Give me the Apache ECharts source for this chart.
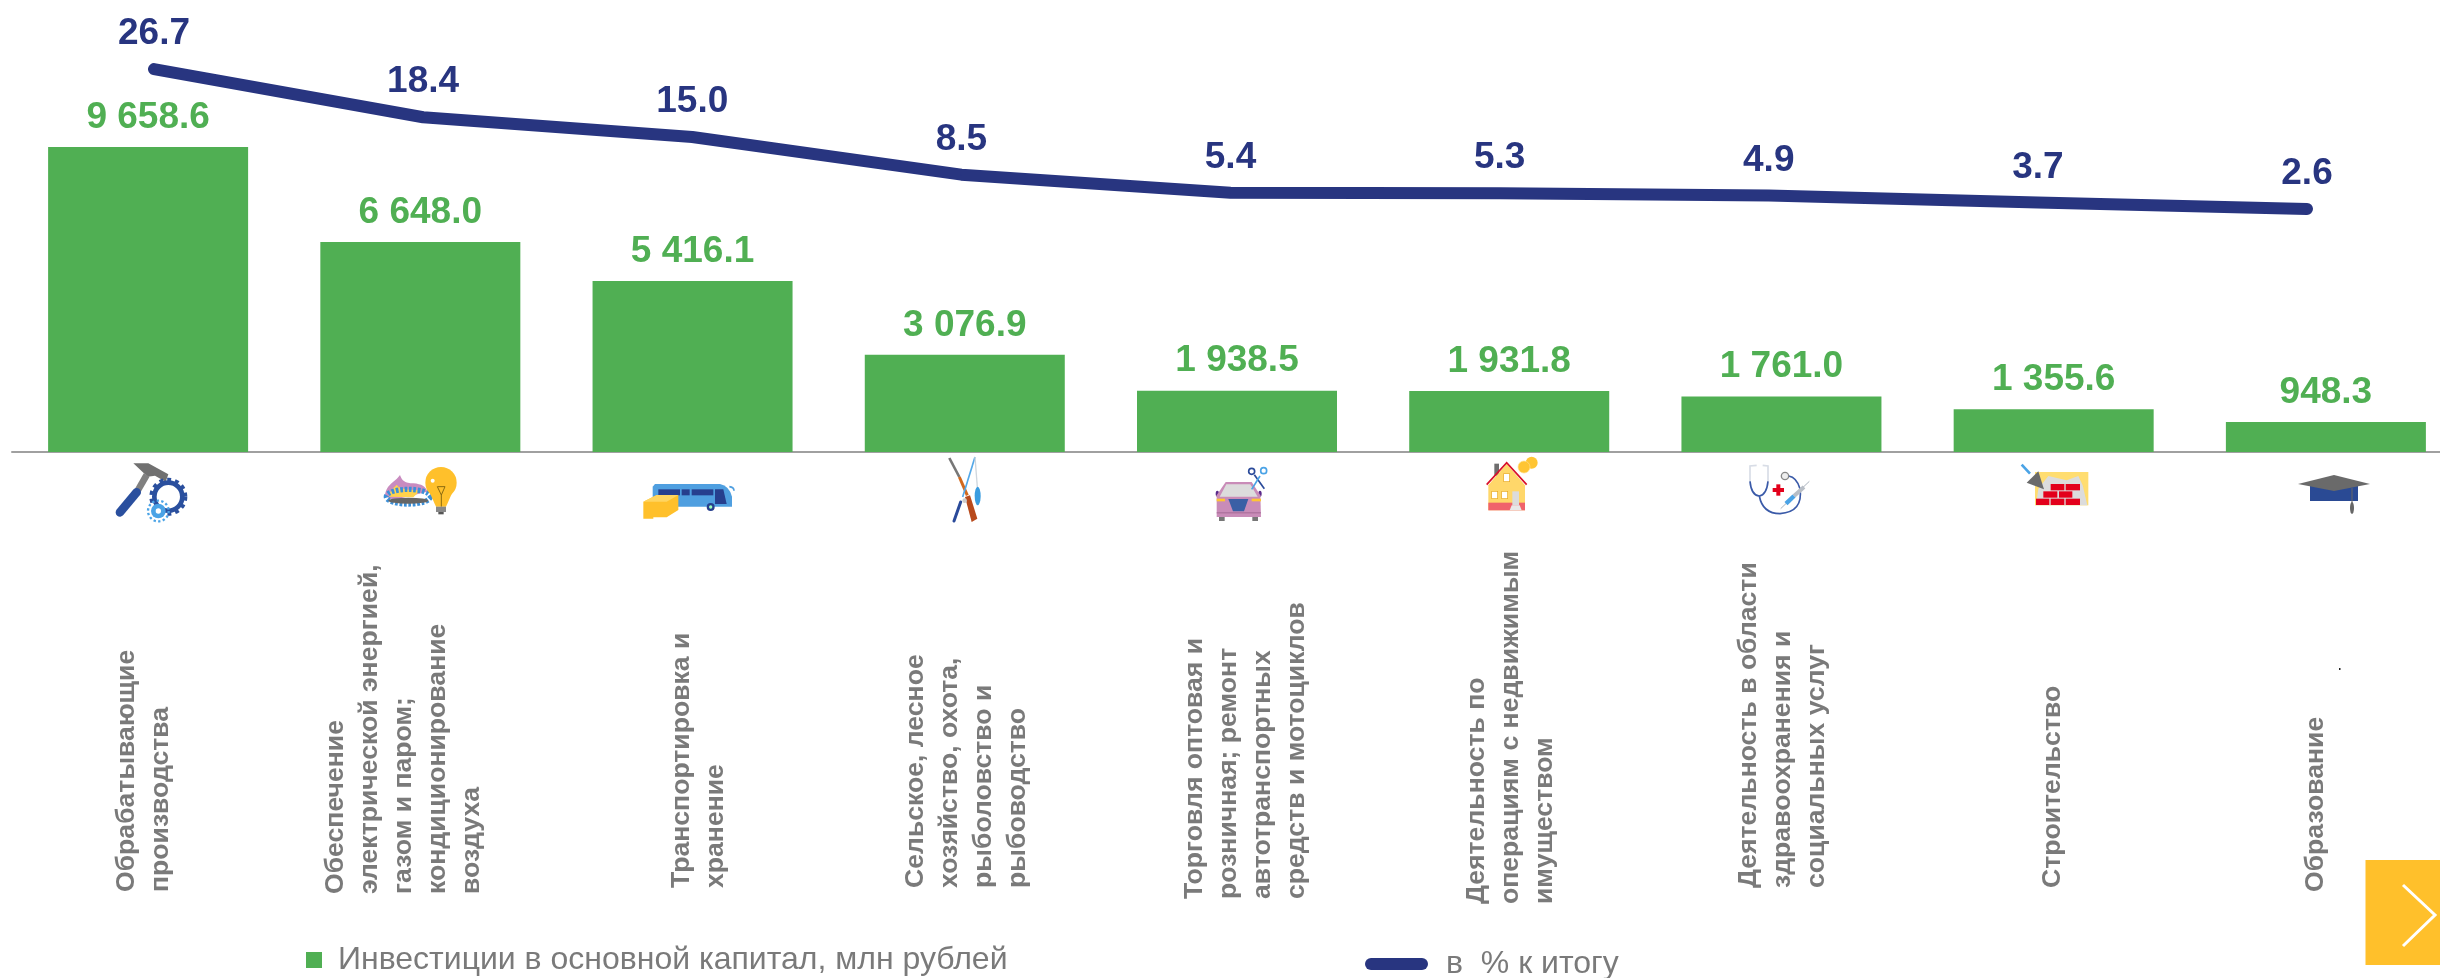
<!DOCTYPE html>
<html>
<head>
<meta charset="utf-8">
<style>html,body{margin:0;padding:0;background:#fff;overflow:hidden}#c{width:2440px;height:978px}</style>
<script src="https://cdn.jsdelivr.net/npm/echarts@6/dist/echarts.min.js"></script>
</head>
<body>
<div id="c"></div>
<script>
const categories = [
  'Обрабатывающие\nпроизводства',
  'Обеспечение\nэлектрической энергией,\nгазом и паром;\nкондиционирование\nвоздуха',
  'Транспортировка и\nхранение',
  'Сельское, лесное\nхозяйство, охота,\nрыболовство и\nрыбоводство',
  'Торговля оптовая и\nрозничная; ремонт\nавтотранспортных\nсредств и мотоциклов',
  'Деятельность по\nоперациям с недвижимым\nимуществом',
  'Деятельность в области\nздравоохранения и\nсоциальных услуг',
  'Строительство',
  'Образование'
];
const investments = [9658.6, 6648.0, 5416.1, 3076.9, 1938.5, 1931.8, 1761.0, 1355.6, 948.3];
const shares = [26.7, 18.4, 15.0, 8.5, 5.4, 5.3, 4.9, 3.7, 2.6];
const barName = 'Инвестиции в основной капитал, млн рублей';
const lineName = 'в  % к итогу';

const labelLift = [12, 10, 16, 16, 5, 0, 16, 16, 12];
const labelShift = [-4, -17, 6, 1.5, 9, 1, 1, -1, -10];

const GREEN = '#50af53', NAVY = '#283580', GREY = '#7a7a7a';
const FONT = '"Liberation Sans", Arial, sans-serif';

function svgUri(w, h, body) {
  return 'data:image/svg+xml;charset=utf-8,' + encodeURIComponent(
    '<svg xmlns="http://www.w3.org/2000/svg" width="' + w + '" height="' + h + '" viewBox="0 0 ' + w + ' ' + h + '">' + body + '</svg>');
}
const icons = [
  {x:105,y:455,w:90,h:72,vw:270,vh:216,body:
    '<path d="M85 25 L130 25 L190 58 L182 80 L150 62 L128 65 Z" fill="#707070"/>'+
    '<line x1="125" y1="60" x2="95" y2="112" stroke="#808080" stroke-width="20"/>'+
    '<line x1="95" y1="112" x2="45" y2="172" stroke="#2a4f9e" stroke-width="26" stroke-linecap="round"/>'+
    '<circle cx="190" cy="125" r="42" fill="none" stroke="#2a4f9e" stroke-width="14"/>'+
    '<circle cx="190" cy="125" r="52" fill="none" stroke="#2a4f9e" stroke-width="10" stroke-dasharray="12 12"/>'+
    '<circle cx="160" cy="168" r="22" fill="#4aa3e6"/><circle cx="160" cy="168" r="31" fill="none" stroke="#4aa3e6" stroke-width="7" stroke-dasharray="7 7"/>'+
    '<circle cx="160" cy="168" r="8" fill="#fff"/>'},
  {x:380,y:460,w:90,h:72,vw:270,vh:216,body:
    '<path d="M15 108 C18 72 45 68 60 45 C66 62 75 70 100 70 C125 72 138 80 142 95 L40 120 Z" fill="#c98cc0"/>'+
    '<path d="M28 110 C28 88 45 82 50 74 C60 92 100 87 120 92 L100 112 Z" fill="#ffd34d"/>'+
    '<ellipse cx="85" cy="110" rx="66" ry="22" fill="none" stroke="#3b8fd8" stroke-width="16" stroke-dasharray="8 5"/>'+
    '<ellipse cx="85" cy="122" rx="60" ry="9" fill="#666"/>'+
    '<circle cx="183" cy="68" r="47" fill="#ffc02b"/><path d="M150 100 L216 100 L198 140 L168 140 Z" fill="#ffc02b"/>'+
    '<path d="M172 80 L195 80 L184 105 Z M184 105 L184 140" fill="none" stroke="#8a6a10" stroke-width="3"/>'+
    '<circle cx="158" cy="62" r="6" fill="#fff"/>'+
    '<rect x="168" y="140" width="30" height="16" fill="#888"/><rect x="175" y="156" width="16" height="7" fill="#555"/>'},
  {x:640,y:460,w:100,h:72,vw:300,vh:216,body:
    '<path d="M45 72 L240 72 Q268 78 276 110 L276 140 L38 140 L38 80 Z" fill="#4f9fe0"/>'+
    '<path d="M268 80 Q282 82 282 92" fill="none" stroke="#4f9fe0" stroke-width="5"/>'+
    '<rect x="55" y="88" width="65" height="18" fill="#263f8e"/><rect x="125" y="88" width="24" height="18" fill="#263f8e"/>'+
    '<rect x="155" y="88" width="65" height="18" fill="#263f8e"/><path d="M225 88 L250 88 L260 132 L225 132 Z" fill="#263f8e"/>'+
    '<circle cx="212" cy="141" r="12" fill="#263f8e"/><circle cx="212" cy="141" r="5" fill="#9fb"/>'+
    '<path d="M10 125 L50 105 L115 105 L115 150 L80 172 L40 172 L40 176 L10 176 Z" fill="#ffc02b"/>'+
    '<path d="M10 125 L50 105 L115 105 L80 125 Z" fill="#ffd560"/>'},
  {x:930,y:452,w:80,h:76,vw:240,vh:228,body:
    '<line x1="58" y1="18" x2="88" y2="75" stroke="#777" stroke-width="8"/>'+
    '<line x1="88" y1="75" x2="112" y2="130" stroke="#d2691e" stroke-width="9"/>'+
    '<path d="M105 135 L120 130 L142 200 L125 210 Z" fill="#b84a1c"/>'+
    '<line x1="135" y1="15" x2="98" y2="135" stroke="#54a8e8" stroke-width="5"/>'+
    '<line x1="92" y1="150" x2="72" y2="207" stroke="#2a4a9a" stroke-width="9" stroke-linecap="round"/>'+
    '<line x1="135" y1="15" x2="142" y2="105" stroke="#cfd6dd" stroke-width="4"/>'+
    '<ellipse cx="143" cy="132" rx="9" ry="28" fill="#3b9de0"/>'+
    '<circle cx="104" cy="146" r="7" fill="#ccc"/>'},
  {x:1205,y:452,w:80,h:76,vw:240,vh:228,body:
    '<rect x="42" y="192" width="17" height="15" fill="#777"/><rect x="142" y="192" width="17" height="15" fill="#777"/>'+
    '<ellipse cx="37" cy="125" rx="5" ry="9" fill="#5a2a8a"/><ellipse cx="165" cy="125" rx="5" ry="9" fill="#5a2a8a"/>'+
    '<path d="M62 90 L140 90 L166 130 L168 195 L35 195 L35 130 Z" fill="#c98cb8"/>'+
    '<path d="M64 97 L136 97 L158 134 L44 134 Z" fill="#dcdcdc"/>'+
    '<path d="M70 141 L130 141 L117 178 L84 178 Z" fill="#3a5fa5"/>'+
    '<rect x="35" y="140" width="25" height="8" fill="#ffc533"/><rect x="140" y="140" width="28" height="8" fill="#ffc533"/>'+
    '<rect x="35" y="181" width="133" height="3" fill="#a56a96"/>'+
    '<line x1="148" y1="68" x2="178" y2="110" stroke="#2a4a9a" stroke-width="5"/><circle cx="140" cy="58" r="9" fill="none" stroke="#2a4a9a" stroke-width="5"/>'+
    '<line x1="165" y1="72" x2="140" y2="112" stroke="#4aa3e6" stroke-width="5"/><circle cx="176" cy="56" r="9" fill="none" stroke="#4aa3e6" stroke-width="5"/>'},
  {x:1475,y:452,w:80,h:76,vw:240,vh:228,body:
    '<rect x="58" y="35" width="14" height="36" fill="#6e6e6e"/>'+
    '<circle cx="170" cy="32" r="18" fill="#ffc533"/><circle cx="147" cy="45" r="18" fill="#ffc533" stroke="#ffe08a" stroke-width="2"/>'+
    '<path d="M40 100 L95 35 L150 100 L150 175 L40 175 Z" fill="#ffd76a"/>'+
    '<polyline points="35,98 95,32 155,98" fill="none" stroke="#d9102a" stroke-width="5"/>'+
    '<rect x="40" y="152" width="110" height="23" fill="#f0636b"/>'+
    '<rect x="50" y="118" width="18" height="22" fill="#fff" stroke="#e8a820" stroke-width="2"/><rect x="80" y="118" width="18" height="22" fill="#fff" stroke="#e8a820" stroke-width="2"/>'+
    '<rect x="86" y="65" width="18" height="24" fill="#fff" stroke="#e8a820" stroke-width="2"/>'+
    '<rect x="112" y="118" width="20" height="42" fill="#dcdcdc"/><path d="M110 160 L134 160 L140 175 L104 175 Z" fill="#e8e8e8"/>'},
  {x:1740,y:452,w:80,h:76,vw:240,vh:228,body:
    '<path d="M30 90 L30 42 L50 40 M84 90 L84 42 L68 40" fill="none" stroke="#d8dde6" stroke-width="5"/>'+
    '<path d="M30 88 Q34 130 58 132 Q80 128 84 88" fill="none" stroke="#3a5aa8" stroke-width="5"/>'+
    '<path d="M58 132 Q68 185 120 185 Q190 180 180 110 Q170 76 146 72" fill="none" stroke="#3a5aa8" stroke-width="5"/>'+
    '<circle cx="135" cy="72" r="11" fill="#eee" stroke="#888" stroke-width="4"/>'+
    '<rect x="98" y="108" width="34" height="12" fill="#e3001b"/><rect x="109" y="97" width="12" height="34" fill="#e3001b"/>'+
    '<line x1="208" y1="88" x2="122" y2="170" stroke="#aab2bc" stroke-width="3"/><line x1="192" y1="105" x2="162" y2="132" stroke="#b8bec6" stroke-width="12"/>'+
    '<line x1="162" y1="132" x2="138" y2="155" stroke="#4aa3e6" stroke-width="13"/>'},
  {x:2010,y:452,w:90,h:76,vw:270,vh:228,body:
    '<rect x="75" y="60" width="160" height="100" fill="#ffdd70"/>'+
    '<path d="M78 160 L85 110 L115 72 L170 85 L205 72 L218 100 L232 160 Z" fill="#dcdcdc"/>'+
    '<g fill="#e3001b"><rect x="122" y="96" width="41" height="19"/><rect x="167" y="96" width="43" height="19"/>'+
    '<rect x="100" y="118" width="42" height="19"/><rect x="147" y="118" width="40" height="19"/>'+
    '<rect x="78" y="140" width="40" height="19"/><rect x="122" y="140" width="41" height="19"/><rect x="167" y="140" width="43" height="19"/></g>'+
    '<path d="M85 58 L102 112 L50 92 Z" fill="#6a6a6a"/>'+
    '<line x1="35" y1="38" x2="60" y2="65" stroke="#4aa3e6" stroke-width="8"/>'},
  {x:2298,y:475,w:72,h:40,vw:72,vh:40,body:
    '<rect x="12" y="9" width="48" height="17" fill="#2a4a94"/>'+
    '<path d="M0 9 L36 0 L72 9 L36 16 Z" fill="#6a6a6a"/>'+
    '<line x1="54" y1="13" x2="54" y2="28" stroke="#666" stroke-width="1"/>'+
    '<ellipse cx="54" cy="33" rx="2" ry="6" fill="#666"/>'}
];
const iconGraphics = icons.map(i => ({
  type: 'image', x: i.x, y: i.y, silent: true,
  style: { image: svgUri(i.vw, i.vh, i.body), x: 0, y: 0, width: i.w, height: i.h }
}));

const option = {
  animation: false,
  backgroundColor: '#fff',
  textStyle: { fontFamily: FONT },
  grid: [
    { left: 12, top: 0, width: 2450, height: 452, show: false, outerBoundsMode: 'none' },
    { left: 154, top: 0, width: 2153, height: 224, show: false, outerBoundsMode: 'none' }
  ],
  xAxis: [
    {
      type: 'category', gridIndex: 0,
      data: categories.map((name, i) => ({
        value: name,
        textStyle: {
          align: 'left', verticalAlign: 'middle',
          padding: [labelShift[i] > 0 ? labelShift[i] * 2 : 0, 0, labelShift[i] < 0 ? -labelShift[i] * 2 : 0, labelLift[i]]
        }
      })),
      axisLine: { show: true, lineStyle: { color: '#a0a0a0', width: 2 } },
      axisTick: { show: false },
      axisLabel: {
        interval: 0, rotate: 90, margin: 452, align: 'left', verticalAlign: 'middle',
        fontSize: 26.6, fontWeight: 'bold', color: GREY, lineHeight: 34, fontFamily: FONT, hideOverlap: false,
        rich: { plain: {} }
      }
    },
    { type: 'category', gridIndex: 1, boundaryGap: false, data: categories, show: false }
  ],
  yAxis: [
    { type: 'value', gridIndex: 0, min: 0, max: 14313, show: false },
    { type: 'value', gridIndex: 1, min: 0, max: 38.6, show: false }
  ],
  legend: [
    {
      left: 306, top: 944, padding: 0, itemWidth: 16, itemHeight: 16, selectedMode: false,
      data: [{ name: barName, icon: 'rect' }],
      textStyle: { fontSize: 32, color: GREY, fontFamily: FONT, padding: [0, 0, 0, 11] }
    },
    {
      left: 1365, top: 948, padding: 0, itemWidth: 63, itemHeight: 12, selectedMode: false,
      data: [{ name: lineName, icon: 'path://M6 0 L57 0 A6 6 0 0 1 57 12 L6 12 A6 6 0 0 1 6 0 Z' }],
      textStyle: { fontSize: 32, color: GREY, fontFamily: FONT, padding: [0, 0, 0, 13] }
    }
  ],
  series: [
    {
      name: barName, type: 'bar', xAxisIndex: 0, yAxisIndex: 0, data: investments,
      barWidth: 200, itemStyle: { color: GREEN },
      label: {
        show: true, position: 'top', distance: 11, fontSize: 37, fontWeight: 'bold', color: GREEN, fontFamily: FONT,
        formatter: p => {
          const s = p.value.toFixed(1).split('.');
          return s[0].replace(/\B(?=(\d{3})+$)/g, ' ') + '.' + s[1];
        }
      }
    },
    {
      name: lineName, type: 'line', xAxisIndex: 1, yAxisIndex: 1, data: shares,
      showSymbol: true, symbol: 'circle', symbolSize: 1, itemStyle: { color: NAVY },
      lineStyle: { color: NAVY, width: 12, cap: 'round', join: 'round' },
      label: {
        show: true, position: 'top', distance: 16, fontSize: 37, fontWeight: 'bold', color: NAVY, fontFamily: FONT,
        formatter: p => p.value.toFixed(1)
      }
    }
  ],
  graphic: iconGraphics.concat([
    { type: 'rect', silent: true, shape: { x: 2365.5, y: 860, width: 74.5, height: 105 }, style: { fill: '#ffc02b' } },
    { type: 'polyline', silent: true, shape: { points: [[2403, 885], [2435, 915], [2403, 946]] }, style: { stroke: '#fff', lineWidth: 3, fill: null } },
    { type: 'rect', silent: true, shape: { x: 2339, y: 668, width: 1.5, height: 2 }, style: { fill: '#222' } }
  ])
};
const chart = echarts.init(document.getElementById('c'), null, { renderer: 'canvas', width: 2440, height: 978 });
chart.setOption(option);
</script>
</body>
</html>
